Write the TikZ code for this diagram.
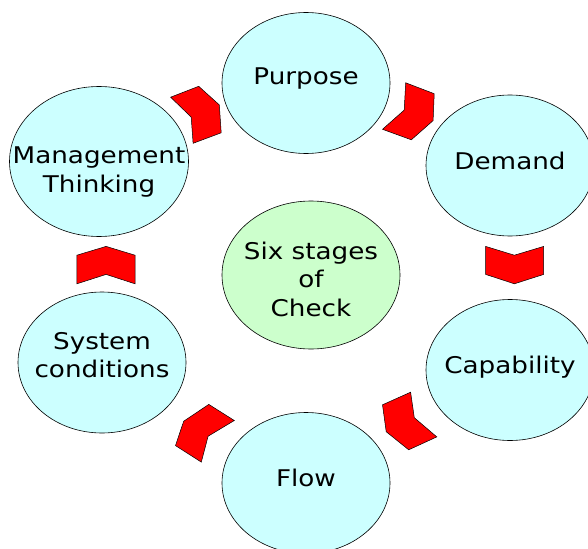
\documentclass[tikz,border=0pt]{standalone}
\usepackage{fontspec}
\setmainfont[FakeStretch=1.14]{DejaVu Sans}
\usetikzlibrary{shapes}
\definecolor{stagefill}{HTML}{CCFFFF}
\definecolor{hubfill}{HTML}{CCFFCC}

\begin{document}
\begin{tikzpicture}[x=1pt,y=-1pt,font=\fontsize{23}{28.5}\selectfont,
		stage/.style={ellipse,draw=black,fill=stagefill,line width=0.6pt,inner sep=0pt,minimum width=168pt,minimum height=141pt},
		hub/.style={stage,fill=hubfill,minimum width=178pt,minimum height=148pt},
		every label/.style={align=center,inner sep=0pt},
		chev/.style={draw=black,fill=red,line width=0.5pt,line join=miter}]
		\useasboundingbox (0,0) rectangle (588,548);

		\node[hub]    (check)   at (311,275)   [label={[yshift=-4.2pt]center:Six stages\\of\\Check}] {};
		\node[stage]  (purpose) at (306,83)    [label={[yshift=4.7pt]center:Purpose}] {};
		\node[stage]  (demand)  at (510,165.5) [label={[yshift=4.7pt]center:Demand}] {};
		\node[stage]  (capab)   at (510,370)   [label={[yshift=3pt]center:Capability}] {};
		\node[stage]  (flow)    at (306,483)   [label={[yshift=4.7pt]center:Flow}] {};
		\node[stage]  (syscond) at (102,362.5) [label={[yshift=7.4pt]center:System\\conditions}] {};
		\node[stage,minimum width=179pt,minimum height=150pt] (mgmt) at (99,161.5)
			[label={[yshift=-10.5pt]center:Management\\Thinking}] {};

		% chevrons going round the cycle
		\draw[chev] (170.6,97.2) -- (198.7,86.3) -- (219.3,104.9) -- (221.2,132.8) -- (193.1,143.3) -- (191.2,117.1) -- cycle;
		\draw[chev] (405.7,82.8) -- (434.2,93.7) -- (433.1,120.6) -- (411.3,139.8) -- (382.5,129.3) -- (404.2,110.1) -- cycle;
		\draw[chev] (485.6,246.4) -- (514.4,255.2) -- (543.7,246.4) -- (543.7,274.4) -- (514.4,283.8) -- (485.6,274.4) -- cycle;
		\draw[chev] (382.5,404.8) -- (410.6,392.2) -- (414.3,417.7) -- (436.8,436.9) -- (408.7,449.8) -- (386.2,431.7) -- cycle;
		\draw[chev] (208.8,404.4) -- (234.3,420.5) -- (208.1,436.2) -- (201.3,462.1) -- (175.5,445.6) -- (183.7,421.2) -- cycle;
		\draw[chev] (76.9,255.2) -- (106.1,246.4) -- (135,255.2) -- (135,283.8) -- (106.1,274.4) -- (76.9,283.8) -- cycle;
\end{tikzpicture}
\end{document}
